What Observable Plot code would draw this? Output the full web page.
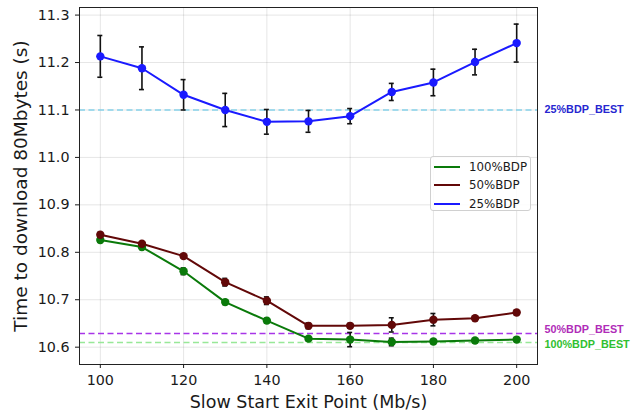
<!DOCTYPE html>
<html>
<head>
<meta charset="utf-8">
<script src="https://cdn.jsdelivr.net/npm/d3@7"></script>
<script src="https://cdn.jsdelivr.net/npm/@observablehq/plot@0.6"></script>
<style>
  html, body { margin: 0; padding: 0; background: #fff; }
  #wrap { position: relative; width: 637px; height: 413px; }
  #legend {
    position: absolute; left: 430px; top: 156px; width: 101px; height: 55px;
    box-sizing: border-box; border: 1px solid #d0d0d0; border-radius: 3px;
    background: rgba(255,255,255,0.85);
    font-family: "DejaVu Sans", sans-serif; font-size: 11.8px; color: #1a1a1a;
  }
  .row { position: absolute; left: 0; height: 18px; display: flex; align-items: center; }
  .sw { width: 26px; height: 0; border-top: 2px solid; margin-left: 3px; margin-right: 9px; }
</style>
</head>
<body>
<div id="wrap"><div id="legend"></div></div>
<script>
// ---- data ----
const exitPoints = [100, 110, 120, 130, 140, 150, 160, 170, 180, 190, 200];

const bdp100 = [10.826, 10.811, 10.760, 10.695, 10.656, 10.618, 10.616, 10.611, 10.612, 10.614, 10.616];
const bdp100Err = [0.005, 0.005, 0.007, 0.005, 0.005, 0.004, 0.015, 0.008, 0.004, 0.004, 0.004];

const bdp50 = [10.837, 10.818, 10.792, 10.737, 10.698, 10.645, 10.645, 10.647, 10.658, 10.661, 10.673];
const bdp50Err = [0.005, 0.004, 0.004, 0.008, 0.008, 0.006, 0.005, 0.015, 0.013, 0.004, 0.005];

const bdp25 = [11.213, 11.188, 11.132, 11.100, 11.075, 11.076, 11.087, 11.138, 11.158, 11.201, 11.241];
const bdp25Err = [0.044, 0.045, 0.032, 0.035, 0.026, 0.023, 0.016, 0.018, 0.028, 0.027, 0.040];

const seriesNames = ["100%BDP", "50%BDP", "25%BDP"];
const seriesColors = ["#0a7a0a", "#620808", "#1a1aff"];

const bestNames = ["25%BDP_BEST", "50%BDP_BEST", "100%BDP_BEST"];
const bestValues = [11.10, 10.629, 10.610];
const bestLineColors = ["#86d2ea", "#a835e8", "#98e898"];
const bestTextColors = ["#2626d0", "#b02cb8", "#30c030"];

const xTicks = [100, 120, 140, 160, 180, 200];
const yTicks = [10.6, 10.7, 10.8, 10.9, 11.0, 11.1, 11.2, 11.3];
const xDomain = [95, 205];
const yDomain = [10.5635, 11.316];

// ---- build table ----
const valuesBySeries = [bdp100, bdp50, bdp25];
const errBySeries = [bdp100Err, bdp50Err, bdp25Err];
const rows = [];
seriesNames.forEach((s, i) => {
  exitPoints.forEach((x, j) => {
    rows.push({series: s, x, y: valuesBySeries[i][j], err: errBySeries[i][j]});
  });
});
const best = bestNames.map((n, i) => ({name: n, y: bestValues[i], line: bestLineColors[i], text: bestTextColors[i]}));
const capHalf = 0.6;
const bestDy = [0, -4, 2];

const chart = Plot.plot({
  width: 637,
  height: 413,
  marginLeft: 79,
  marginRight: 100,
  marginTop: 7,
  marginBottom: 49,
  style: {fontFamily: "DejaVu Sans, sans-serif", fontSize: "14px", color: "#1a1a1a", background: "white"},
  x: {domain: xDomain},
  y: {domain: yDomain},
  color: {domain: seriesNames, range: seriesColors},
  marks: [
    Plot.gridX(xTicks, {stroke: "#000", strokeOpacity: 0.1, strokeWidth: 1}),
    Plot.gridY(yTicks, {stroke: "#000", strokeOpacity: 0.1, strokeWidth: 1}),
    ...best.map((b, i) => Plot.ruleY([b], {y: "y", stroke: b.line, strokeWidth: 1.6, strokeDasharray: "6,3.5"})),
    ...best.map((b, i) => Plot.text([b], {
      x: () => xDomain[1], y: "y", text: "name", fill: b.text, dx: 7, dy: bestDy[i],
      textAnchor: "start", fontFamily: "Liberation Sans, Arial, sans-serif", fontWeight: "bold", fontSize: 10.8
    })),
    Plot.lineY(rows, {x: "x", y: "y", z: "series", stroke: "series", strokeWidth: 2}),
    Plot.ruleX(rows, {x: "x", y1: d => d.y - d.err, y2: d => d.y + d.err, stroke: "#111", strokeWidth: 1.6}),
    Plot.ruleY(rows, {y: d => d.y - d.err, x1: d => d.x - capHalf, x2: d => d.x + capHalf, stroke: "#111", strokeWidth: 1.6}),
    Plot.ruleY(rows, {y: d => d.y + d.err, x1: d => d.x - capHalf, x2: d => d.x + capHalf, stroke: "#111", strokeWidth: 1.6}),
    Plot.dot(rows, {x: "x", y: "y", fill: "series", r: 4.2}),
    Plot.frame({stroke: "#222", strokeWidth: 1}),
    Plot.axisX(xTicks, {tickSize: 4, tickPadding: 6, label: "Slow Start Exit Point (Mb/s)", labelAnchor: "center", labelArrow: "none", labelOffset: 43, fontSize: 14.3}),
    Plot.axisY(yTicks, {tickSize: 4, tickPadding: 6, tickFormat: d3.format(".1f"), label: "Time to download 80Mbytes (s)", labelAnchor: "center", labelArrow: "none", labelOffset: 66, fontSize: 14.3})
  ]
});

// enlarge axis label fonts
chart.querySelectorAll("g[aria-label='x-axis label'] text").forEach(t => t.setAttribute("font-size", "17.5"));
chart.querySelectorAll("g[aria-label='y-axis label'] text").forEach(t => t.setAttribute("font-size", "18.5"));

document.getElementById("wrap").prepend(chart);

// legend
const legend = document.getElementById("legend");
seriesNames.forEach((s, i) => {
  const row = document.createElement("div");
  row.className = "row";
  row.style.top = (0.5 + i * 18.8) + "px";
  const sw = document.createElement("span");
  sw.className = "sw";
  sw.style.borderTopColor = seriesColors[i];
  const lab = document.createElement("span");
  lab.textContent = s;
  row.append(sw, lab);
  legend.append(row);
});
</script>
</body>
</html>
